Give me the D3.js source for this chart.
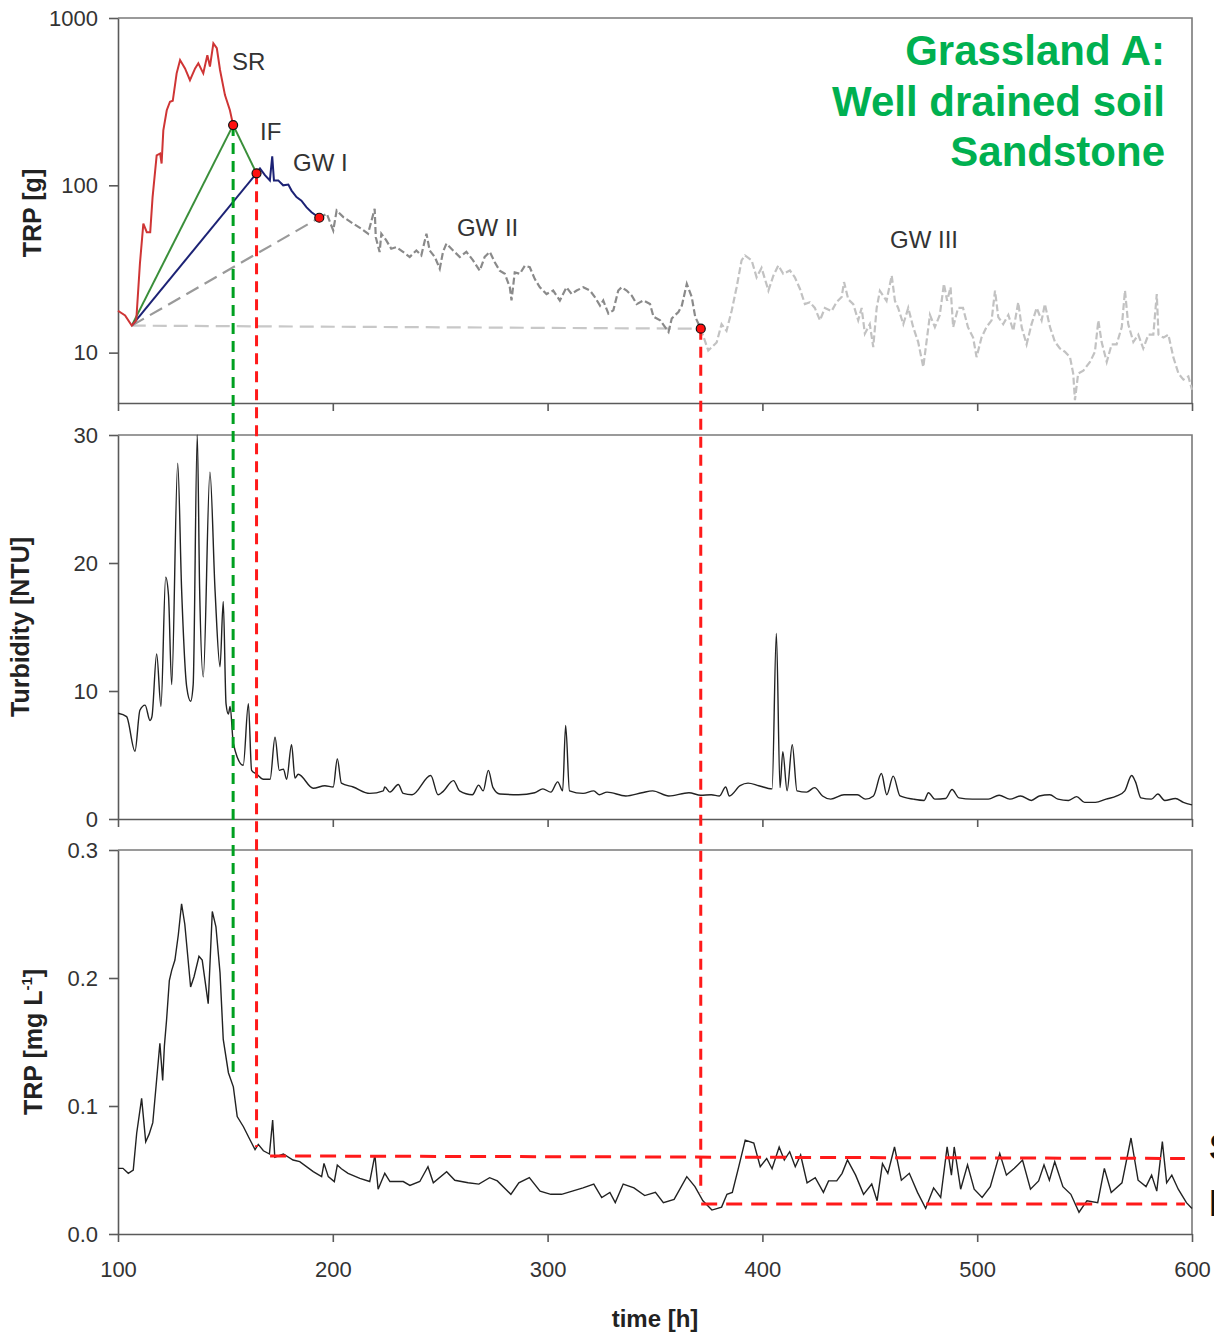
<!DOCTYPE html>
<html><head><meta charset="utf-8">
<script src="https://cdn.jsdelivr.net/npm/d3@7/dist/d3.min.js"></script>
<style>
html,body{margin:0;padding:0;background:#fff;}
svg{display:block;font-family:"Liberation Sans",Arial,sans-serif;}
</style></head>
<body>
<svg id="chart" width="1214" height="1334"></svg>
<script>
// ---------- DATA ----------
const xTicks = [100, 200, 300, 400, 500, 600];
const loadTicks = [10, 100, 1000];
const turbTicks = [0, 10, 20, 30];
const concTicks = [0.0, 0.1, 0.2, 0.3];

// TRP load [g] – surface runoff (SR)
const srT = [100,103.3,106.4,108.5,110.2,111.8,113.4,115,116.1,118,119.6,120.3,121.1,122.7,124.2,125.5,127.3,128.9,131.2,133.5,135.9,137.4,139.7,141.6,142.8,144.4,146,147.5,149.8,152.1,153.6];
const srV = [17.8,16.7,14.5,15.6,34,59,52.5,52.5,85,151,155,135,213,281,316,320,467,561,500,425,500,536,467,600,512,705,660,489,346,281,229];
// interflow (IF)
const ifT = [153.6,164.5];
const ifV = [229,118];
// groundwater I
const gw1T = [164.5,166.1,168.4,170.7,171.8,172.6,174.6,176.9,179.3,180.8,183.1,185.4,187.7,190.1,193.7];
const gw1V = [118,126,115,107,149,107,107,100,101,93,85,81,74,69,64];
// groundwater II
const gw2T = [193.7,197.2,200.2,201.8,204.9,209.5,213.3,216.4,219.5,220,221.8,222.6,224.9,227.2,229.6,232.7,235.8,238.9,241.2,243.6,245.1,247.5,249.8,251.3,252.9,256,259.1,262.2,265.3,268.4,270.7,273.1,275.4,277.7,280.1,282.4,283.2,284.7,287.1,289.4,291.7,294,296.4,299.5,302.6,305.7,308.8,311.2,313.5,316.6,319.7,322,324.4,325.9,328.3,330.6,332.9,334.5,336.8,339.2,341.5,344.6,347.7,349.3,352.4,354.7,356.3,357.8,360.9,362.5,364.8,367.1,368.7,371.3];
const gw2V = [64,67.6,53.7,70.8,64.6,59,55,51.4,72.4,49,39.9,51.4,46.9,41.8,42.7,40,37.3,40.8,38.1,51.4,40.8,37.3,31.7,40,44.8,40.8,37.3,40,35.6,30.9,37.3,40,34.7,30.9,29.6,24.6,20.5,30.2,29.6,33.1,32.4,27.6,24.6,22.4,23.5,20.5,24.6,22.4,23.5,24.6,23.5,21.5,19.1,20.5,17.1,17.9,23.5,24.6,23.5,21.9,19.5,20.5,19.5,16.4,15.6,14.2,13.3,16,17.5,19.1,25.8,21.5,16.4,13.9];
// groundwater III
const gw3T = [371.3,374.8,378.7,381,383.3,385.7,388,390.3,391.9,395,397.3,399.6,402.8,405.1,407.4,409.7,412.8,415.1,417.5,419.8,422.1,424.4,426.8,429.1,432.2,434.5,436.9,438,440,442.3,444.6,446.2,447.7,450,451.6,453.2,454.7,457.8,460.2,461.7,463.2,465.6,467.9,470.2,472.5,474.9,476.4,478,480.3,482.6,484.5,486,487.6,488.8,491.1,493.4,495.7,498.1,499.7,502,504.3,506.7,508.3,509.8,512.1,514.5,516.8,519.1,520.7,523,525.3,527.7,530,531.5,533.9,536.2,538.5,540.9,543.2,544.7,545.5,547,549.4,552.5,554.8,556.4,557.9,560.3,562.6,564.9,567.3,568.8,570.3,572.7,575,577.3,579.7,582,583.6,584.4,586.7,589,591.3,593.7,596,598.3,600];
const gw3V = [13.9,10.3,11.5,14.8,13.5,17.8,24.6,35.6,38.1,35.6,28.2,32.1,23.5,28.8,33.2,29.6,31,28.2,24,19.5,20,18.5,15.6,18.5,17.7,20,21.5,26.4,20.8,19.5,15.6,18.5,13,14.8,10.8,18.5,23.4,20.4,28.9,20.4,18.5,14.8,18.5,14.2,11.6,8.2,11.6,16.8,14.2,16.8,25.8,20.4,24.6,14.2,18.5,18.5,14.2,12.3,9.4,12.3,14.2,15.6,23.5,16.3,14.8,16.8,13.5,20,14.2,11.2,14.8,18.5,15.6,19.5,14.2,11.6,10.6,10.1,9.4,7.5,5.2,7.5,7.8,8.8,10.1,15.6,11.6,8.8,11.2,11.2,14.2,23.5,14.8,11.6,12.8,10.6,12.8,12.8,22.4,12.8,12.3,12.8,9.4,7.5,6.9,7.2,6];
// separation points
const startT = 106.4, startV = 14.5;
const breakT = [153.6,164.5,193.7,371.3];
const breakV = [229,118,64,13.9];

// Turbidity [NTU]
const turbT = [100,104,107.9,110.2,112.6,114.9,115.8,118,120,122.2,123.5,125,127.8,129.6,132,133.8,135,136.9,138,139.7,142.8,145.2,147.5,149,150.3,151.4,152.2,153.7,158.3,160.7,162.2,164.6,167.7,170.8,173.1,175.1,177,178.5,180.8,182.4,183.9,190.9,196.3,200.2,202.1,204,209.5,217.2,223.5,224.2,226.6,230.5,232.8,236.9,245.6,249,251,256.2,259,265,267.9,270,272.4,274.6,277.8,286.5,294,297.8,301.5,304.7,307,308.4,310.2,316.5,321.5,324,327.7,336.4,343.9,348.9,356.4,365.8,371.3,376.2,380,382.9,384.6,389.6,393.3,398.3,404.5,406.5,408.2,409.5,411.5,413.9,416.1,420.6,424.3,428,431.8,438,444.2,448,451.7,455.4,457.9,460.9,464.1,470.3,475.3,477.3,480.3,485.3,488.3,491.5,497.7,505.2,510.2,515.2,520.2,525.2,528.9,533.8,537.6,542.5,546.3,550,555,560,565,568.7,571.9,573.7,576.2,581.1,584.1,587.3,592.3,596,600];
const turbV = [8.26,8.0,5.3,8.5,8.9,7.7,8.0,12.9,8.8,18.9,17.5,10.5,27.8,18,10.3,9.2,10.5,30,18,11.1,27.1,17.8,11.9,17,9.0,8.2,8.8,5.9,4.2,9.0,3.8,3.5,3.1,3.1,6.4,3.8,3.9,3.1,5.8,3.2,3.5,2.4,2.6,2.5,4.7,2.8,2.5,2.0,2.2,2.5,2.1,2.7,2.0,1.9,3.4,1.9,2.1,3.0,2.2,1.9,2.65,2.2,3.8,2.45,1.95,1.9,2.05,2.35,2.1,2.9,2.2,7.3,2.2,2.0,2.2,1.9,2.1,1.8,2.05,2.2,1.8,2.05,1.85,1.9,1.8,2.5,1.8,2.6,2.8,2.6,2.35,14.5,2.45,5.25,2.2,5.8,2.2,2.1,2.45,1.8,1.55,1.9,1.9,1.55,1.8,3.55,1.9,3.35,1.8,1.55,1.45,2.05,1.55,1.6,2.3,1.65,1.55,1.55,1.85,1.55,1.8,1.45,1.8,1.9,1.55,1.45,1.75,1.3,1.3,1.55,1.8,2.2,3.4,2.9,1.65,1.55,1.95,1.45,1.6,1.3,1.1];

// TRP concentration [mg L-1]
const concT = [100,102.3,104.8,107.1,108.7,111,112.9,114.5,116.2,117.8,119.5,120.8,121.6,122.6,123.9,125,126.5,128.1,129.6,131.1,133.8,135.4,137.7,139.2,142,143.9,145.6,147.5,149,151.4,153.7,155.5,158.4,161.5,163.8,165.3,167.7,170.5,172,173,177,181.5,184.6,190.9,194.8,195.9,197.9,200.7,202.1,204,207.1,212.6,217.2,219.6,221.1,224.2,226.6,232.8,235.9,240.5,244.3,246.8,253,256.8,263,268,273,276.6,282.9,286.6,291.5,296.5,301.5,306.5,311.5,316.5,321.5,325.2,329,331.5,335.2,340.2,345.2,350.2,353.9,358.9,364.8,368.6,372.3,376.5,381,383.5,386,389,392,396,399,402,404.5,407.8,410.2,412.7,415.3,417.8,420.8,424.6,428.4,430.8,434.6,437.1,439.6,443.4,447.1,450.9,453.4,455.9,458.4,461.5,464.7,468.4,472.2,476,479.7,483,486,488,489.3,492.3,495.5,498.6,502.3,506.1,510.5,513.6,517.3,521.1,524.8,528.6,531.1,533.6,536.1,539.9,543.6,547.4,551.1,556.1,559.2,562.4,567.4,571.6,574.9,578.6,581.2,583.6,586.2,588.2,590.6,593.6,597.4,600];
const concV = [0.0513,0.0513,0.0474,0.050,0.0787,0.106,0.072,0.078,0.087,0.117,0.149,0.120,0.147,0.167,0.198,0.206,0.214,0.234,0.258,0.242,0.193,0.201,0.217,0.214,0.180,0.252,0.240,0.204,0.152,0.126,0.115,0.0917,0.0838,0.0734,0.066,0.070,0.065,0.0625,0.089,0.060,0.0625,0.0578,0.0565,0.0487,0.0448,0.0552,0.0448,0.0409,0.0539,0.051,0.0474,0.0435,0.041,0.0617,0.035,0.0474,0.041,0.041,0.038,0.041,0.0526,0.040,0.0487,0.042,0.040,0.039,0.044,0.0415,0.031,0.040,0.044,0.0335,0.031,0.031,0.0335,0.036,0.039,0.0285,0.0325,0.0245,0.039,0.036,0.030,0.0325,0.0245,0.027,0.0448,0.037,0.026,0.0187,0.021,0.031,0.0325,0.0526,0.0734,0.071,0.0526,0.059,0.051,0.068,0.0578,0.0643,0.0526,0.0617,0.040,0.044,0.0325,0.0415,0.0415,0.0474,0.0578,0.046,0.031,0.039,0.026,0.055,0.0474,0.068,0.042,0.0474,0.0325,0.020,0.036,0.0285,0.068,0.046,0.068,0.035,0.054,0.035,0.0285,0.037,0.063,0.046,0.0513,0.0578,0.035,0.0415,0.054,0.042,0.0565,0.037,0.031,0.017,0.026,0.0245,0.0513,0.0325,0.040,0.075,0.042,0.037,0.046,0.0335,0.0722,0.040,0.046,0.035,0.0245,0.020];

// red guide levels in concentration panel
const guideHigh = {t: [170.8, 596.7], v: [0.061, 0.059]};
const guideLow = {t: [371.5, 596.7], v: [0.0234, 0.0234]};
const guideStopV = [0.122, 0.068, 0.032];

const panelLabels = [
  {text: "SR", t: 153.1, v: 489},
  {text: "IF", t: 166.1, v: 186},
  {text: "GW I", t: 181.5, v: 121},
  {text: "GW II", t: 257.8, v: 50},
  {text: "GW III", t: 459.4, v: 42}
];
const titleLines = ["Grassland A:", "Well drained soil", "Sandstone"];

// ---------- LAYOUT ----------
const svg = d3.select("#chart");
const L = 118, R = 1192;
const x = d3.scaleLinear().domain([100, 600]).range([L, R]);
const yLoad = d3.scaleLog().domain([5, 1000]).range([403, 18]);
const yTurb = d3.scaleLinear().domain([0, 30]).range([819, 435]);
const yConc = d3.scaleLinear().domain([0, 0.3]).range([1234, 850]);

function zip(t, v) { return t.map((d, i) => [d, v[i]]); }

function frame(y) {
  const [b, t] = y.range();
  svg.append("path")
    .attr("d", `M${L},${t}H${R}V${b}`)
    .attr("fill", "none").attr("stroke", "#7a7a7a").attr("stroke-width", 1.6);
}
function axes(y, yt, fmt, showX) {
  const [b] = y.range();
  const ax = svg.append("g").attr("transform", `translate(0,${b})`)
    .call(d3.axisBottom(x).tickValues(xTicks).tickSize(8).tickSizeOuter(0).tickFormat(showX ? d3.format("d") : ""));
  const ay = svg.append("g").attr("transform", `translate(${L},0)`)
    .call(d3.axisLeft(y).tickValues(yt).tickSize(9).tickSizeOuter(0).tickFormat(fmt));
  [ax, ay].forEach(g => {
    g.selectAll("path,line").attr("stroke", "#5a5a5a").attr("stroke-width", 1.6);
    g.selectAll("text").attr("fill", "#333").attr("font-size", 22)
      .attr("font-family", "'Liberation Sans',Arial,sans-serif");
  });
  ay.selectAll("text").attr("x", -20);
  ax.selectAll("text").attr("y", 27);
}

frame(yLoad); frame(yTurb); frame(yConc);
axes(yLoad, loadTicks, d3.format("d"), false);
axes(yTurb, turbTicks, d3.format("d"), false);
axes(yConc, concTicks, d3.format(".1f"), true);

// axis titles
function yTitle(txt, cx, cy) {
  return svg.append("text").attr("transform", `translate(${cx},${cy}) rotate(-90)`)
    .attr("text-anchor", "middle").attr("font-weight", "bold").attr("font-size", 25)
    .attr("fill", "#222").text(txt);
}
yTitle("TRP [g]", 41, 213);
yTitle("Turbidity [NTU]", 29, 627);
const ct = yTitle("TRP [mg L", 42, 1042);
ct.append("tspan").attr("font-size", 15).attr("dy", -10).text("-1");
ct.append("tspan").attr("dy", 10).text("]");
svg.append("text").attr("x", 655).attr("y", 1327).attr("text-anchor", "middle")
  .attr("font-weight", "bold").attr("font-size", 24).attr("fill", "#222").text("time [h]");

// ---------- TOP PANEL ----------
const lineLoad = d3.line().x(d => x(d[0])).y(d => yLoad(d[1]));
const gTop = svg.append("g");
gTop.append("path").datum([[startT, startV], [breakT[3], breakV[3]]]).attr("d", lineLoad)
  .attr("fill", "none").attr("stroke", "#c8c8c8").attr("stroke-width", 2.2).attr("stroke-dasharray", "14,7");
gTop.append("path").datum([[startT, startV], [breakT[2], breakV[2]]]).attr("d", lineLoad)
  .attr("fill", "none").attr("stroke", "#9a9a9a").attr("stroke-width", 2.2).attr("stroke-dasharray", "14,7");
gTop.append("path").datum(zip(gw3T, gw3V)).attr("d", lineLoad)
  .attr("fill", "none").attr("stroke", "#c2c2c2").attr("stroke-width", 2.2).attr("stroke-dasharray", "7,3");
gTop.append("path").datum(zip(gw2T, gw2V)).attr("d", lineLoad)
  .attr("fill", "none").attr("stroke", "#8a8a8a").attr("stroke-width", 2.2).attr("stroke-dasharray", "7,3");
gTop.append("path").datum([[startT, startV], [breakT[0], breakV[0]]]).attr("d", lineLoad)
  .attr("fill", "none").attr("stroke", "#3a8f3a").attr("stroke-width", 2);
gTop.append("path").datum(zip(ifT, ifV)).attr("d", lineLoad)
  .attr("fill", "none").attr("stroke", "#3a8f3a").attr("stroke-width", 2);
gTop.append("path").datum([[startT, startV], [breakT[1], breakV[1]]]).attr("d", lineLoad)
  .attr("fill", "none").attr("stroke", "#1c2275").attr("stroke-width", 2);
gTop.append("path").datum(zip(gw1T, gw1V)).attr("d", lineLoad)
  .attr("fill", "none").attr("stroke", "#1c2275").attr("stroke-width", 2);
gTop.append("path").datum(zip(srT, srV)).attr("d", lineLoad)
  .attr("fill", "none").attr("stroke", "#cf3535").attr("stroke-width", 2);

gTop.selectAll("text.lab").data(panelLabels).join("text")
  .attr("x", d => x(d.t)).attr("y", d => yLoad(d.v))
  .attr("font-size", 24).attr("fill", "#333").text(d => d.text);

svg.append("g").selectAll("text").data(titleLines).join("text")
  .attr("x", 1165).attr("y", (d, i) => 65 + i * 50.5).attr("text-anchor", "end")
  .attr("font-weight", "bold").attr("font-size", 42).attr("fill", "#00b050").text(d => d);

// ---------- MIDDLE PANEL ----------
svg.append("path").datum(zip(turbT, turbV))
  .attr("d", d3.line().curve(d3.curveMonotoneX).x(d => x(d[0])).y(d => yTurb(d[1])))
  .attr("fill", "none").attr("stroke", "#222").attr("stroke-width", 1.4);

// ---------- BOTTOM PANEL ----------
const lineConc = d3.line().x(d => x(d[0])).y(d => yConc(d[1]));
svg.append("path").datum(zip(concT, concV)).attr("d", lineConc)
  .attr("fill", "none").attr("stroke", "#222").attr("stroke-width", 1.4);

// ---------- GUIDES ----------
const guides = svg.append("g");
const guideColors = ["#00a020", "#ff1a1a", null, "#ff1a1a"];
[0, 1, 3].forEach((k, j) => {
  guides.append("line")
    .attr("x1", x(breakT[k])).attr("x2", x(breakT[k]))
    .attr("y1", yLoad(breakV[k])).attr("y2", yConc(guideStopV[j]))
    .attr("stroke", guideColors[k]).attr("stroke-width", 3).attr("stroke-dasharray", "11,7");
});
[guideHigh, guideLow].forEach(g => {
  guides.append("path").datum(zip(g.t, g.v)).attr("d", lineConc)
    .attr("fill", "none").attr("stroke", "#ff1a1a").attr("stroke-width", 3).attr("stroke-dasharray", "16,9");
});
guides.selectAll("circle").data(zip(breakT, breakV)).join("circle")
  .attr("cx", d => x(d[0])).attr("cy", d => yLoad(d[1])).attr("r", 4.5)
  .attr("fill", "#ff1010").attr("stroke", "#111").attr("stroke-width", 1.2);

// side labels at the right edge (partly outside the picture, as in the source)
svg.append("text").attr("x", 1209).attr("y", 1160).attr("font-size", 37).attr("font-weight", "bold").attr("fill", "#111").text("S");
svg.append("text").attr("x", 1209).attr("y", 1216).attr("font-size", 37).attr("font-weight", "bold").attr("fill", "#111").text("B");
</script>
</body></html>
